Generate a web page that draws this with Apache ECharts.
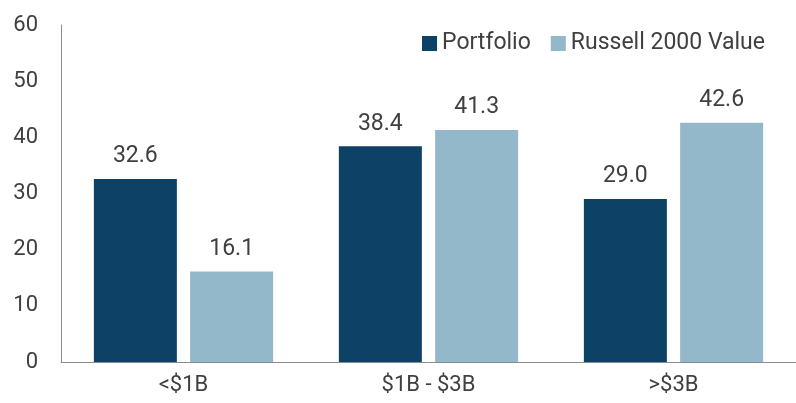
<!DOCTYPE html>
<html><head><meta charset="utf-8">
<script src="https://cdn.jsdelivr.net/npm/echarts@6/dist/echarts.min.js"></script>
<style>html,body{margin:0;padding:0;background:#fff}#c{width:796px;height:403px}</style>
</head><body><div id="c"></div>
<script>
const categories = ['<$1B', '$1B - $3B', '>$3B'];
const portfolio = [32.6, 38.4, 29.0];
const russell = [16.1, 41.3, 42.6];
const seriesNames = ['Portfolio', 'Russell 2000 Value'];

const chart = echarts.init(document.getElementById('c'), null, {renderer: 'canvas'});
const labelCfg = {show: true, position: 'top', distance: 11, color: '#404040', fontSize: 23, fontFamily: 'Roboto', formatter: p => p.value.toFixed(1)};
chart.setOption({
  animation: false,
  textStyle: {fontFamily: 'Roboto'},
  legend: {
    right: 26, top: 27, itemWidth: 15, itemHeight: 15, itemGap: 20,
    icon: 'rect',
    textStyle: {fontSize: 23, color: '#404040', fontFamily: 'Roboto'},
    data: seriesNames
  },
  grid: {left: 61, right: 0, top: 25, bottom: 41},
  xAxis: {
    type: 'category', data: categories,
    axisLine: {lineStyle: {color: '#8c8c8c', width: 1}},
    axisTick: {show: false},
    axisLabel: {fontSize: 22, color: '#404040', margin: 12, fontFamily: 'Roboto'}
  },
  yAxis: {
    type: 'value', min: 0, max: 60, interval: 10,
    axisLine: {show: true, lineStyle: {color: '#8c8c8c', width: 1}},
    axisTick: {show: false},
    splitLine: {show: false},
    axisLabel: {fontSize: 22, color: '#404040', margin: 23, fontFamily: 'Roboto'}
  },
  series: [
    {name: seriesNames[0], type: 'bar', data: portfolio, itemStyle: {color: '#0D4166'}, barWidth: 83, barGap: '16%', label: labelCfg},
    {name: seriesNames[1], type: 'bar', data: russell, itemStyle: {color: '#93B8CA'}, barWidth: 83, label: labelCfg}
  ]
});
</script></body></html>
